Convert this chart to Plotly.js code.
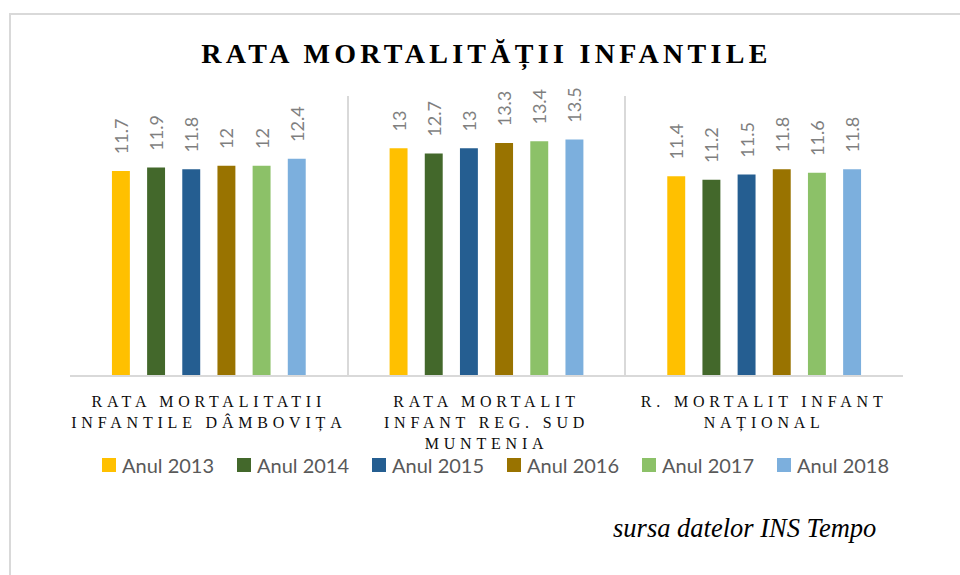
<!DOCTYPE html>
<html>
<head>
<meta charset="utf-8">
<script src="https://cdn.plot.ly/plotly-3.0.1.min.js"></script>
<style>
  html, body { margin: 0; padding: 0; background: #ffffff; }
  #wrap { position: relative; width: 960px; height: 575px; overflow: hidden; }
  #chart { position: absolute; left: 0; top: 0; width: 960px; height: 575px; }
  #frame { position: absolute; left: 9px; top: 13px; width: 1000px; height: 600px;
           border-left: 2px solid #d9d9d9; border-top: 2px solid #d9d9d9; pointer-events: none; }
</style>
</head>
<body>
<div id="wrap">
  <div id="chart"></div>
  <div id="frame"></div>
</div>
<script>
const categories = [
  "RATA MORTALITATII<br>INFANTILE DÂMBOVIȚA",
  "RATA MORTALIT<br>INFANT REG. SUD<br>MUNTENIA",
  "R. MORTALIT INFANT<br>NAȚIONAL"
];
const seriesNames = ["Anul 2013", "Anul 2014", "Anul 2015", "Anul 2016", "Anul 2017", "Anul 2018"];
const an2013 = [11.7, 13.0, 11.4];
const an2014 = [11.9, 12.7, 11.2];
const an2015 = [11.8, 13.0, 11.5];
const an2016 = [12.0, 13.3, 11.8];
const an2017 = [12.0, 13.4, 11.6];
const an2018 = [12.4, 13.5, 11.8];
const seriesValues = [an2013, an2014, an2015, an2016, an2017, an2018];
const seriesColors = ["#FFC000", "#43682B", "#255E91", "#997300", "#8CC168", "#7CAFDD"];
const chartTitle = "RATA MORTALITĂȚII INFANTILE";
const sourceNote = "sursa datelor INS Tempo";

const pad = "\u00a0\u00a0\u00a0";
const traces = seriesNames.map((name, i) => ({
  type: "bar",
  name: name,
  x: categories,
  y: seriesValues[i],
  marker: { color: seriesColors[i], line: { width: 0 } },
  text: seriesValues[i].map(v => pad + String(v)),
  textposition: "outside",
  textangle: -90,
  constraintext: "none",
  cliponaxis: false,
  textfont: { family: "Lato, 'Open Sans', sans-serif", size: 18, color: "#7f7f7f" },
  hoverinfo: "skip"
}));

const layout = {
  width: 960,
  height: 575,
  margin: { l: 70, r: 57, t: 96, b: 200 },
  paper_bgcolor: "rgba(0,0,0,0)",
  plot_bgcolor: "rgba(0,0,0,0)",
  barmode: "group",
  bargap: 0.24,
  bargroupgap: 0.49,
  showlegend: true,
  title: {
    text: chartTitle,
    font: { family: "'Liberation Serif', 'Times New Roman', serif", size: 28, color: "#000000", weight: 700 },
    x: 0.5, xref: "paper", xanchor: "center",
    y: 1 - 53 / 575, yref: "container", yanchor: "middle"
  },
  xaxis: {
    type: "category",
    tickson: "boundaries",
    showgrid: true,
    gridcolor: "#d9d9d9",
    gridwidth: 2,
    showline: true,
    linecolor: "#d9d9d9",
    linewidth: 2,
    ticks: "",
    ticklabelstandoff: 11,
    tickfont: { family: "'Liberation Serif', 'Times New Roman', serif", size: 16, color: "#0d0d0d" },
    fixedrange: true
  },
  yaxis: {
    range: [0, 16],
    visible: false,
    showgrid: false,
    zeroline: false,
    fixedrange: true
  },
  legend: {
    orientation: "h",
    x: 487 / 960, xref: "container", xanchor: "center",
    y: 1 - 465 / 575, yref: "container", yanchor: "middle",
    font: { family: "Lato, 'Open Sans', sans-serif", size: 20, color: "#595959" },
    entrywidth: 90,
    entrywidthmode: "pixels",
    bgcolor: "rgba(0,0,0,0)",
    traceorder: "normal"
  },
  annotations: [{
    text: sourceNote,
    xref: "paper", yref: "paper",
    x: (744 - 70) / 833, xanchor: "center",
    y: (375 - 528) / 279, yanchor: "middle",
    showarrow: false,
    font: { family: "'Liberation Serif', 'Times New Roman', serif", size: 26.5, color: "#000000", style: "italic" }
  }]
};

Plotly.newPlot("chart", traces, layout, { staticPlot: true, displayModeBar: false }).then(gd => {
  gd.querySelectorAll(".gtitle").forEach(t => { t.style.letterSpacing = "4.3px"; });
  gd.querySelectorAll(".xtick text").forEach(t => { t.style.letterSpacing = "4.8px"; });
  gd.querySelectorAll(".legend .legendpoints path").forEach(p => { p.setAttribute("d", "M14,7H0V-7H14Z"); });
});
</script>
</body>
</html>
